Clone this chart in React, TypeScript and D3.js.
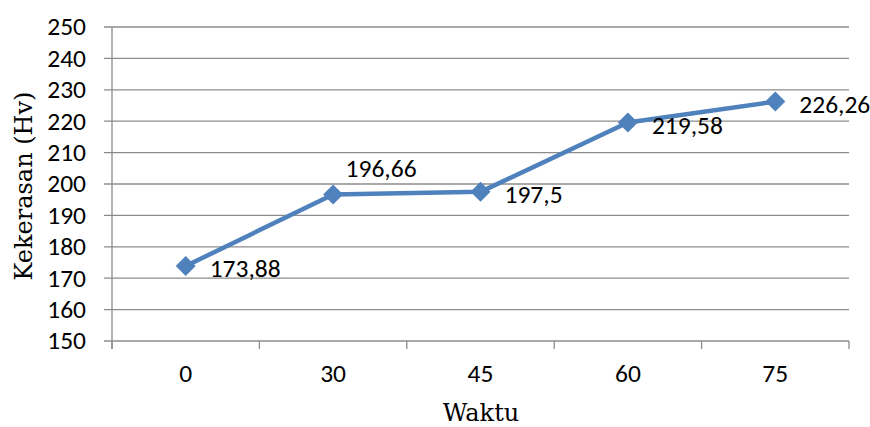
import React from "react";
import * as d3 from "d3";

const categories = ["0", "30", "45", "60", "75"];
const values = [173.88, 196.66, 197.5, 219.58, 226.26];
const valueLabels = ["173,88", "196,66", "197,5", "219,58", "226,26"];
const labelPos = ["right", "above", "right", "right", "right"];
const yTicks = [150, 160, 170, 180, 190, 200, 210, 220, 230, 240, 250];

export default function App() {
  const W = 870, H = 427;
  const left = 112, right = 849, top = 27, bottom = 341;
  const x = d3.scaleBand().domain(categories).range([left, right]);
  const y = d3.scaleLinear().domain([150, 250]).range([bottom, top]);
  const cx = (c: string) => (x(c) as number) + x.bandwidth() / 2;
  const line = d3.line<number>().x((_, i) => cx(categories[i])).y((v) => y(v));
  const tickFont = "Carlito, Calibri, 'Open Sans', 'Noto Sans', sans-serif";
  const titleFont = "'DejaVu Serif', serif";
  const fs = 25.5;
  const grid = "#8c8c8c";
  const color = "#4F81BD";
  const boundaries = [left, ...categories.map((c) => (x(c) as number) + x.bandwidth())];
  const ds = 10;
  return (
    <svg width={W} height={H} style={{ position: "absolute", left: 0, top: 0 }}>
      <rect width={W} height={H} fill="#fff" />
      {yTicks.map((t) => (
        <g key={t}>
          <line x1={left - 8} x2={right} y1={y(t)} y2={y(t)} stroke={grid} strokeWidth={1.3} />
          <text x={86} y={y(t)} dy="0.33em" textAnchor="end" fontFamily={tickFont} fontSize={fs} fill="#000">
            {t}
          </text>
        </g>
      ))}
      <line x1={left} x2={left} y1={top} y2={bottom + 8} stroke={grid} strokeWidth={1.3} />
      {boundaries.map((b, i) => (
        <line key={i} x1={b} x2={b} y1={bottom} y2={bottom + 8} stroke={grid} strokeWidth={1.3} />
      ))}
      {categories.map((c) => (
        <text key={c} x={cx(c)} y={382} textAnchor="middle" fontFamily={tickFont} fontSize={fs} fill="#000">
          {c}
        </text>
      ))}
      <path d={line(values) as string} fill="none" stroke={color} strokeWidth={4.5} strokeLinejoin="round" />
      {values.map((v, i) => {
        const px = cx(categories[i]);
        const py = y(v);
        return (
          <path
            key={i}
            d={`M${px},${py - ds}L${px + ds},${py}L${px},${py + ds}L${px - ds},${py}Z`}
            fill={color}
          />
        );
      })}
      {values.map((v, i) => {
        const px = cx(categories[i]);
        const py = y(v);
        if (labelPos[i] === "above") {
          return (
            <text key={i} x={px + 48} y={py - 17} textAnchor="middle" fontFamily={tickFont} fontSize={fs} fill="#000">
              {valueLabels[i]}
            </text>
          );
        }
        return (
          <text key={i} x={px + 24} y={py + 11} textAnchor="start" fontFamily={tickFont} fontSize={fs} fill="#000">
            {valueLabels[i]}
          </text>
        );
      })}
      <text
        transform={`translate(32,186) rotate(-90)`}
        textAnchor="middle"
        fontFamily={titleFont}
        fontSize={24}
        fill="#000"
      >
        Kekerasan (Hv)
      </text>
      <text x={481} y={421} textAnchor="middle" fontFamily={titleFont} fontSize={24} fill="#000">
        Waktu
      </text>
    </svg>
  );
}
